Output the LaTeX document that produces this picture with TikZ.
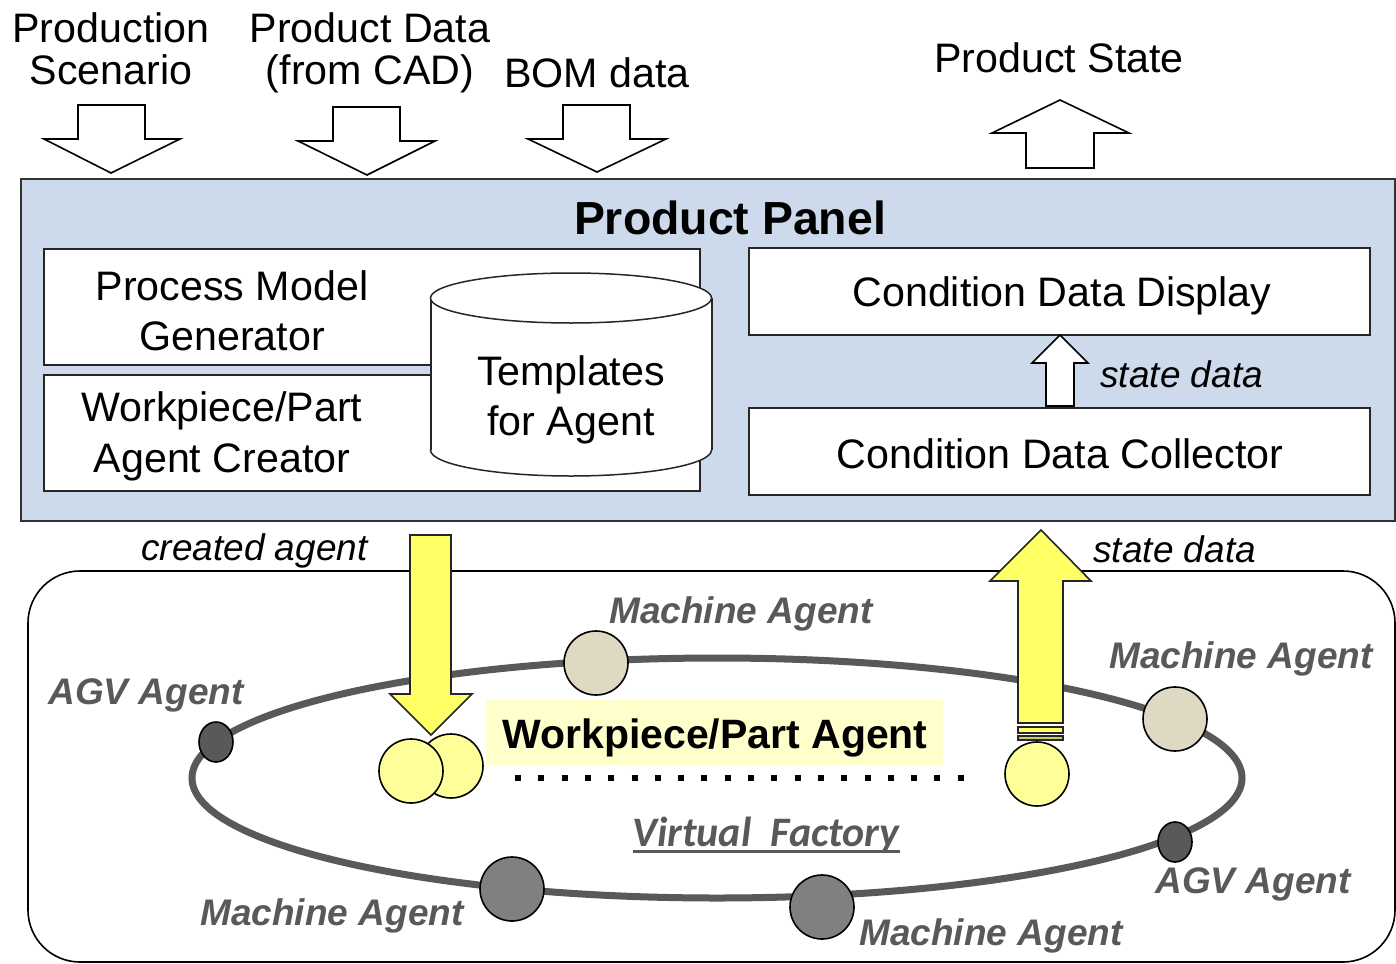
\documentclass[tikz,border=0pt]{standalone}
\usepackage{fontspec}
\setmainfont{Liberation Sans}
\newfontfamily\calib{Carlito}
\definecolor{panelblue}{RGB}{205,218,235}
\definecolor{trackgray}{RGB}{89,89,89}
\definecolor{beige}{RGB}{221,217,195}
\definecolor{midgray}{RGB}{128,128,128}
\definecolor{arrowyellow}{RGB}{255,255,102}
\definecolor{circyellow}{RGB}{255,255,153}
\definecolor{hiyellow}{RGB}{255,255,204}
\definecolor{olive}{RGB}{204,204,102}
\tikzset{
  lbl/.style={inner sep=0, anchor=base, font=\fontsize{20.6}{21}\selectfont},
  ital/.style={inner sep=0, font=\fontsize{18.5}{20}\selectfont\itshape},
  agentlbl/.style={inner sep=0, anchor=base west, text=trackgray, font=\fontsize{18.5}{20}\selectfont\bfseries\itshape},
  boxst/.style={draw=black!85, line width=0.75pt, fill=white},
  blockarrow/.style={draw=black, line width=0.8pt, fill=white, line join=miter},
  yarrow/.style={draw=black!85, line width=0.8pt, fill=arrowyellow, line join=miter},
  track/.style={draw=trackgray, line width=3.5pt},
  agentdot/.style={draw=black, line width=0.8pt}
}
\begin{document}
\begin{tikzpicture}[x=0.5pt,y=-0.5pt]
\useasboundingbox (0,0) rectangle (1396,963);

% top input arrows
\draw[blockarrow] (78,105) -- (145,105) -- (145,139) -- (180,139) -- (111,173) -- (44,139) -- (78,139) -- cycle;
\draw[blockarrow] (333,107) -- (400,107) -- (400,141) -- (435,141) -- (367,175) -- (298,141) -- (333,141) -- cycle;
\draw[blockarrow] (563,105) -- (630,105) -- (630,139) -- (666,139) -- (597,172) -- (528,139) -- (563,139) -- cycle;
% output arrow
\draw[blockarrow] (1060,100) -- (1129,133) -- (1094,133) -- (1094,168) -- (1026,168) -- (1026,133) -- (992,133) -- cycle;

% top labels
\node[lbl] (ps1) at (111,43) {Production};
\node[lbl] (ps2) at (111,85) {Scenario};
\node[lbl] (pd1) at (370,43) {Product Data};
\node[lbl] (pd2) at (370,85) {(from CAD)};
\node[lbl] (bom) at (597,88) {BOM data};
\node[lbl] (pst) at (1059,73) {Product State};

% product panel
\draw[draw=black!80, line width=0.8pt, fill=panelblue] (21,179) rectangle (1395,521);
\node[lbl, font=\fontsize{23.2}{24}\selectfont\bfseries] (pp) at (730,234) {Product Panel};

\draw[boxst] (44,249) rectangle (700,365);
\draw[boxst] (44,375) rectangle (700,491);
\node[lbl] (pm1) at (232,300) {Process Model};
\node[lbl] (pm2) at (232,350) {Generator};
\node[lbl] (wc1) at (222,421) {Workpiece/Part};
\node[lbl] (wc2) at (222,472) {Agent Creator};

% cylinder
\draw[boxst] (571,450) ellipse [x radius=140.5, y radius=26];
\fill[white] (431,298) rectangle (712,450);
\draw[black!85, line width=0.75pt] (431,298) -- (431,450) (712,298) -- (712,450);
\draw[boxst] (571,298) ellipse [x radius=140.5, y radius=25];
\node[lbl] (tp1) at (571,385) {Templates};
\node[lbl] (tp2) at (571,435) {for Agent};

\draw[boxst] (749,248) rectangle (1370,335);
\draw[boxst] (749,408) rectangle (1370,495);
\node[lbl] (cdd) at (1062,306) {Condition Data Display};
\node[lbl] (cdc) at (1060,468) {Condition Data Collector};
\draw[blockarrow] (1060,335) -- (1088,363) -- (1074,363) -- (1074,406) -- (1046,406) -- (1046,363) -- (1032,363) -- cycle;
\node[ital, anchor=base west] (sd1) at (1100,387) {state data};

\node[ital, anchor=base east] (ca) at (368,560) {created agent};
\node[ital, anchor=base west] (sd2) at (1093,562) {state data};

% virtual factory
\draw[draw=black, line width=0.8pt, rounded corners=26pt] (28,571) rectangle (1395,962);
\draw[track] (717,778) ellipse [x radius=525, y radius=120];

\draw[agentdot, fill=trackgray] (216,742) ellipse [x radius=17, y radius=20];
\draw[agentdot, fill=trackgray] (1175,842) ellipse [x radius=17, y radius=20];
\draw[agentdot, fill=beige] (596,663) circle [radius=32];
\draw[agentdot, fill=beige] (1175,719) circle [radius=32];
\draw[agentdot, fill=midgray] (512,889) circle [radius=32];
\draw[agentdot, fill=midgray] (822,907) circle [radius=32];

\draw[agentdot, fill=circyellow] (451,766) circle [radius=32];
\draw[agentdot, fill=circyellow] (411,771) circle [radius=32];
\draw[agentdot, fill=circyellow] (1037,774) circle [radius=32];

\draw[yarrow] (410,535) -- (451,535) -- (451,694) -- (472,694) -- (431,735) -- (390,694) -- (410,694) -- cycle;
\draw[yarrow] (1041,530) -- (1091,581) -- (1063,581) -- (1063,723) -- (1018,723) -- (1018,581) -- (990,581) -- cycle;
\draw[draw=black!85, line width=0.6pt, fill=arrowyellow] (1018,727) rectangle (1063,733);
\draw[draw=black!85, line width=0.6pt, fill=olive] (1018,736) rectangle (1063,740);

\fill[hiyellow] (486,700) rectangle (943,765);
\node[lbl, font=\fontsize{20.5}{21}\selectfont\bfseries] (wpa) at (715,748) {Workpiece/Part Agent};
\draw[line width=3pt, dash pattern=on 3pt off 8.65pt] (515,778) -- (964,778);

\node[agentlbl] (ma1) at (609,623) {Machine Agent};
\node[agentlbl] (agv1) at (48,704) {AGV Agent};
\node[agentlbl] (ma2) at (1109,668) {Machine Agent};
\node[agentlbl] (agv2) at (1155,893) {AGV Agent};
\node[agentlbl] (ma3) at (200,925) {Machine Agent};
\node[agentlbl] (ma4) at (859,945) {Machine Agent};

\node[inner sep=0, anchor=base, text=trackgray, font=\fontsize{21}{22}\selectfont\calib\bfseries\itshape] (vf) at (766,846) {Virtual\ \ Factory};
\draw[trackgray, line width=1.5pt] (633,851) -- (900,851);
\end{tikzpicture}
\end{document}
